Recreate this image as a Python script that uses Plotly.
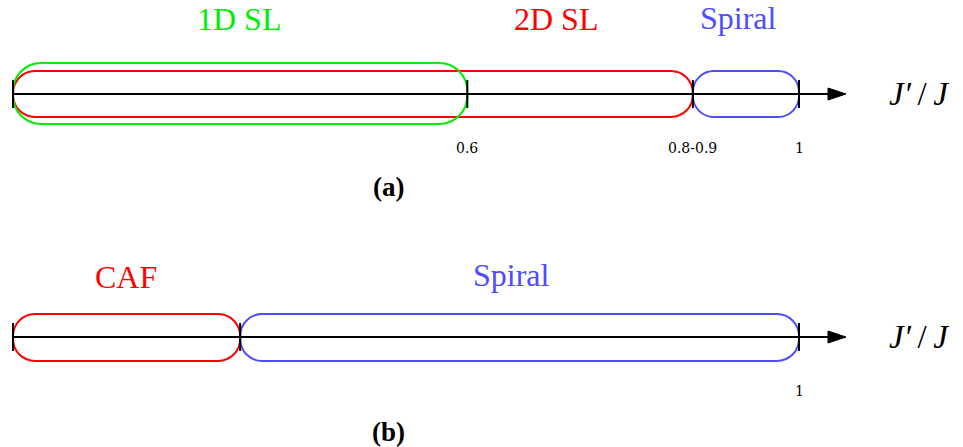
import plotly.graph_objects as go

# ---- data (schematic positions along J'/J axis, 0 = left end, 1 = J'/J = 1) ----
bounds_a = [0.0, 0.578, 0.865, 1.0]
ticklabels_a = ["", "0.6", "0.8-0.9", "1"]
bounds_b = [0.0, 0.289, 1.0]
ticklabels_b = ["", "", "1"]

phases_a = ["1D SL", "2D SL", "Spiral"]
phase_spans_a = [(0.0, 0.578), (0.0, 0.865), (0.865, 1.0)]
phases_b = ["CAF", "Spiral"]
phase_spans_b = [(0.0, 0.289), (0.289, 1.0)]
axis_title = "<i>J′</i>\u2009/\u2009<i>J</i>"

# ---- layout constants ----
W, H = 963, 447
PX = 786.0          # pixels per schematic unit
X0PX = 13.0
GREEN, RED, BLUE = "#00ee00", "#ff0000", "#4d4dff"
SERIF = "Liberation Serif, DejaVu Serif, serif"

fig = go.Figure()
shapes, annots = [], []


def pill(x0, x1, y0, y1, r, color):
    rx, ry, k = r / PX, r, 0.5523
    p = (f"M {x0+rx},{y0} L {x1-rx},{y0} "
         f"C {x1-rx+k*rx},{y0} {x1},{y0+ry-k*ry} {x1},{y0+ry} "
         f"L {x1},{y1-ry} "
         f"C {x1},{y1-ry+k*ry} {x1-rx+k*rx},{y1} {x1-rx},{y1} "
         f"L {x0+rx},{y1} "
         f"C {x0+rx-k*rx},{y1} {x0},{y1-ry+k*ry} {x0},{y1-ry} "
         f"L {x0},{y0+ry} "
         f"C {x0},{y0+ry-k*ry} {x0+rx-k*rx},{y0} {x0+rx},{y0} Z")
    return dict(type="path", path=p, xref="x", yref="y",
                line=dict(color=color, width=2), fillcolor="rgba(0,0,0,0)")


def axis(yc, bounds, labels, label_y):
    x_end = (832 - X0PX) / PX
    x_tip = (846 - X0PX) / PX
    shapes.append(dict(type="line", xref="x", yref="y", x0=-0.001, x1=x_end,
                       y0=yc, y1=yc, line=dict(color="black", width=2)))
    xb = (828 - X0PX) / PX
    shapes.append(dict(type="path", xref="x", yref="y",
                       path=f"M {xb},{yc-6} L {x_tip},{yc} L {xb},{yc+6} Z",
                       fillcolor="black", line=dict(color="black", width=1)))
    for b, lab in zip(bounds, labels):
        shapes.append(dict(type="line", xref="x", yref="y", x0=b, x1=b,
                           y0=yc - 14, y1=yc + 14,
                           line=dict(color="black", width=2)))
        if lab:
            annots.append(dict(x=b, y=label_y, xref="x", yref="y", text=lab,
                               showarrow=False,
                               font=dict(family="DejaVu Serif", size=14,
                                         color="black")))
    annots.append(dict(x=(919 - X0PX) / PX, y=yc, xref="x", yref="y",
                       text=axis_title, showarrow=False,
                       font=dict(family=SERIF, size=33, color="black")))


# panel (a)
shapes.append(pill(phase_spans_a[1][0], phase_spans_a[1][1], 71, 117, 22, RED))
shapes.append(pill(phase_spans_a[0][0], phase_spans_a[0][1], 63, 124, 28, GREEN))
shapes.append(pill(phase_spans_a[2][0], phase_spans_a[2][1], 71, 117, 21, BLUE))
axis(94, bounds_a, ticklabels_a, 148)
for name, col, xc, yc in zip(phases_a, [GREEN, RED, BLUE],
                             [239, 556, 738], [19, 19, 18]):
    annots.append(dict(x=(xc - X0PX) / PX, y=yc, xref="x", yref="y", text=name,
                       showarrow=False, font=dict(family=SERIF, size=32, color=col)))
annots.append(dict(x=(388 - X0PX) / PX, y=187, xref="x", yref="y", text="<b>(a)</b>",
                   showarrow=False, font=dict(family=SERIF, size=27, color="black")))

# panel (b)
shapes.append(pill(phase_spans_b[0][0], phase_spans_b[0][1], 314, 361, 22, RED))
shapes.append(pill(phase_spans_b[1][0], phase_spans_b[1][1], 314, 361, 22, BLUE))
axis(337, bounds_b, ticklabels_b, 391)
for name, col, xc, yc in zip(phases_b, [RED, BLUE], [126, 511], [277, 275]):
    annots.append(dict(x=(xc - X0PX) / PX, y=yc, xref="x", yref="y", text=name,
                       showarrow=False, font=dict(family=SERIF, size=32, color=col)))
annots.append(dict(x=(388 - X0PX) / PX, y=432, xref="x", yref="y", text="<b>(b)</b>",
                   showarrow=False, font=dict(family=SERIF, size=27, color="black")))

fig.update_layout(
    width=W, height=H, margin=dict(l=0, r=0, t=0, b=0),
    paper_bgcolor="white", plot_bgcolor="white",
    xaxis=dict(range=[-X0PX / PX, (W - X0PX) / PX], visible=False, fixedrange=True),
    yaxis=dict(range=[H, 0], visible=False, fixedrange=True),
    shapes=shapes, annotations=annots, showlegend=False,
)
fig.write_html("out.html")
